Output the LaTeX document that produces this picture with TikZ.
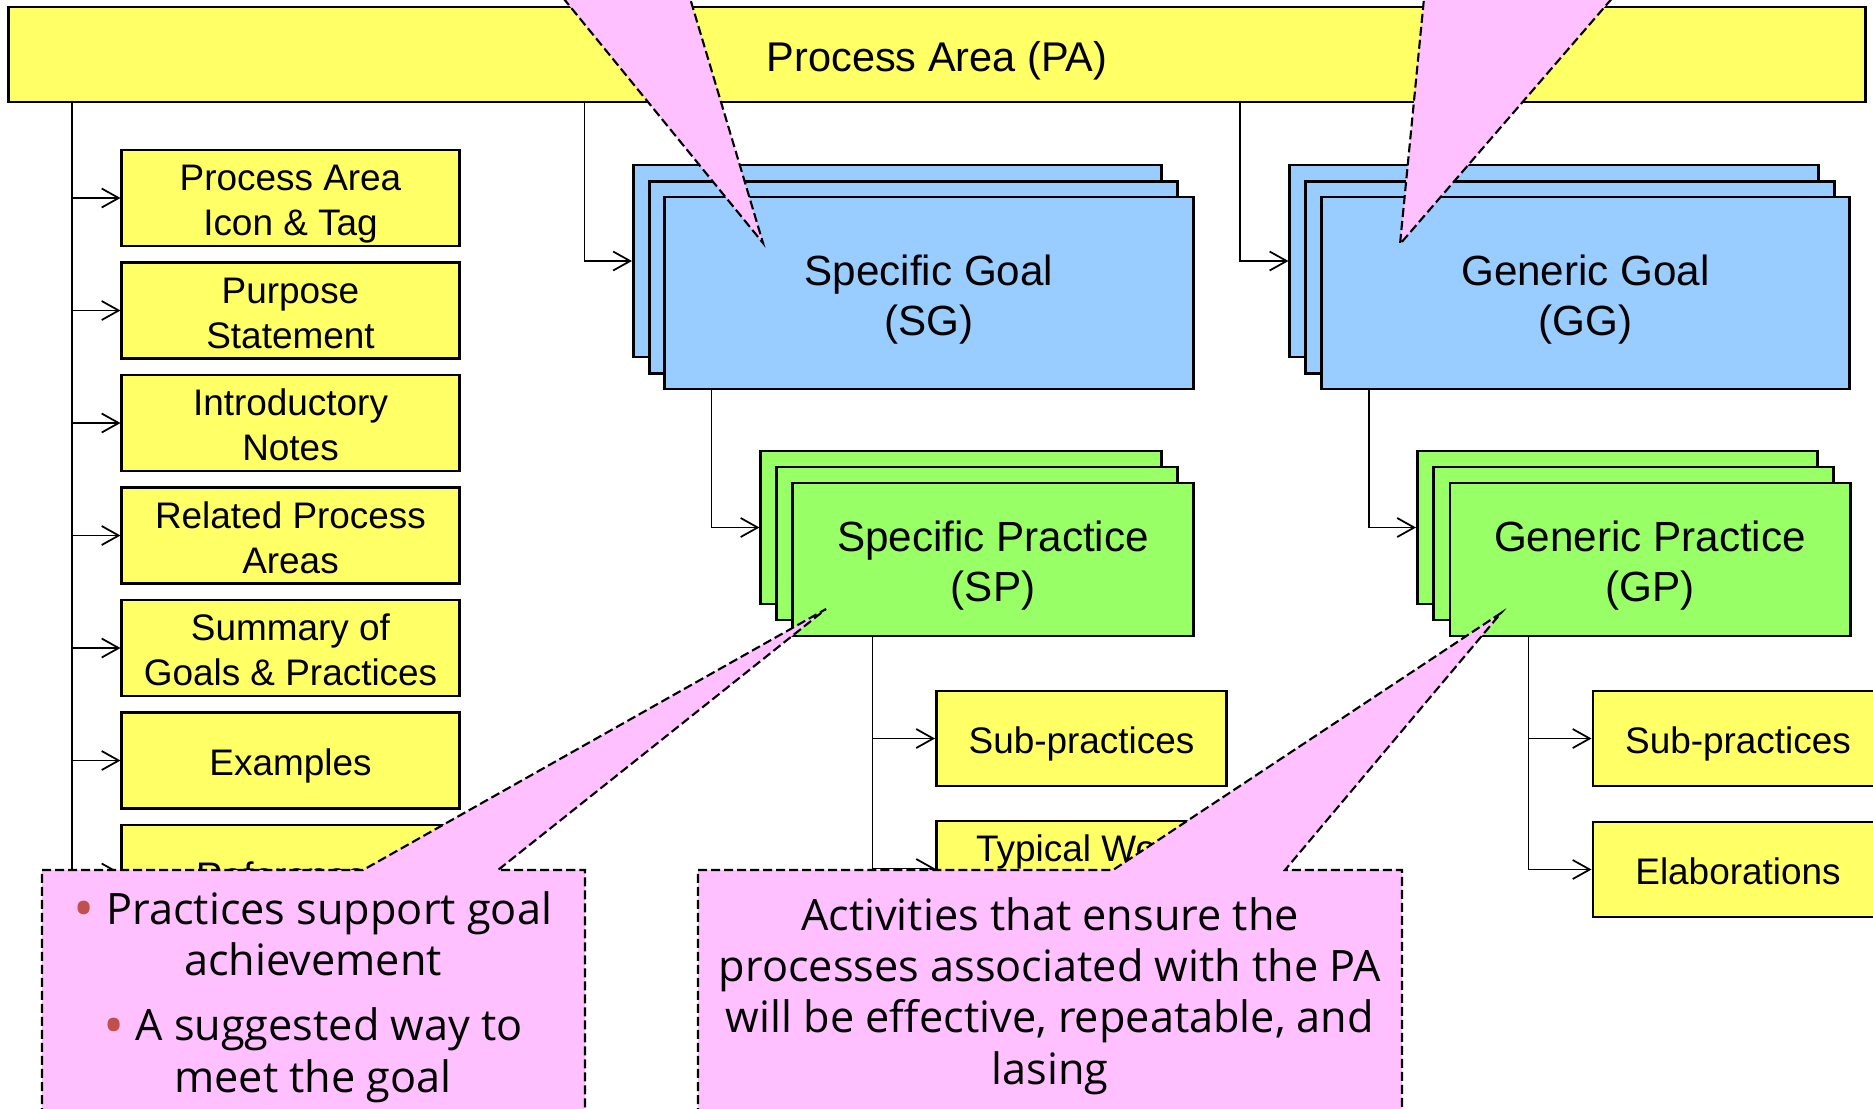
\documentclass[tikz,border=0pt]{standalone}
\usepackage{fontspec}
\setmainfont{Liberation Sans}
\newfontfamily\notefont{Open Sans}
\usetikzlibrary{arrows.meta, positioning}
\definecolor{cyellow}{HTML}{FFFF66}
\definecolor{cblue}{HTML}{99CCFF}
\definecolor{cgreen}{HTML}{99FF66}
\definecolor{cpink}{HTML}{FFC0FF}
\definecolor{cbullet}{HTML}{C0504D}
\newcommand{\dotmark}{\raisebox{-1.2pt}{\color{cbullet}\fontsize{16}{14.6}\selectfont\textbullet}}
\tikzset{
  every picture/.style={x=0.01cm, y=-0.01cm, line width=0.5pt},
  box/.style={draw=black, fill=#1, line width=0.8pt, align=center, inner sep=0pt, font=\fontsize{10.5}{12.8}\selectfont,
    text height=21.5pt, text depth=0pt},
  box/.default=cyellow,
  one line/.style={text height=8.7pt},
  item/.style={box, minimum width=3.37cm, minimum height=0.96cm},
  subbox/.style={box, minimum width=2.9cm, minimum height=0.95cm},
  goal/.style={box=cblue, minimum width=5.28cm, minimum height=1.92cm, font=\fontsize{12}{14.2}\selectfont, text height=24pt},
  practice/.style={box=cgreen, minimum width=4.0cm, minimum height=1.53cm, font=\fontsize{12}{14.2}\selectfont, text height=24pt},
  link/.style={-{Straight Barb[length=1.7mm, width=1.9mm]}, line width=0.5pt},
  callout/.style={fill=cpink, draw=black, dash pattern=on 0.9mm off 0.4mm, line width=0.6pt},
  note/.style={font=\notefont\fontsize{12.3}{14.6}\selectfont, align=center},
}

\begin{document}
\begin{tikzpicture}
  \useasboundingbox (0,0) rectangle (1873,1108);
  \clip (0,0) rectangle (1873,1108);
  \node[box, minimum width=18.56cm, minimum height=0.95cm, font=\fontsize{11.8}{14}\selectfont, text height=9.4pt] (pa) at (937,54.5) {Process Area (PA)};
  % left column
  \node[item] (i1) at (290.5,198) {Process Area\\Icon \& Tag};
  \node[item] (i2) at (290.5,310.5) {Purpose\\Statement};
  \node[item] (i3) at (290.5,423) {Introductory\\Notes};
  \node[item] (i4) at (290.5,535.5) {Related Process\\Areas};
  \node[item] (i5) at (290.5,648) {Summary of\\Goals \& Practices};
  \node[item, one line] (i6) at (290.5,760.5) {Examples};
  \node[item, one line] (i7) at (290.5,873) {References};
  \draw[link] ([xshift=0.65cm]pa.south west) |- (i1.west);
  \draw[link] ([xshift=0.65cm]pa.south west) |- (i2.west);
  \draw[link] ([xshift=0.65cm]pa.south west) |- (i3.west);
  \draw[link] ([xshift=0.65cm]pa.south west) |- (i4.west);
  \draw[link] ([xshift=0.65cm]pa.south west) |- (i5.west);
  \draw[link] ([xshift=0.65cm]pa.south west) |- (i6.west);
  \draw[link] ([xshift=0.65cm]pa.south west) |- (i7.west);
  % specific side
  \node[goal] (sgA) at (897.5,261) {};
  \node[goal] (sgB) at (913.5,277.5) {};
  \node[goal] (sgC) at (929,293) {Specific Goal\\(SG)};
  \node[practice] (spA) at (961,527.5) {};
  \node[practice] (spB) at (977,543.5) {};
  \node[practice] (spC) at (993,559.5) {Specific Practice\\(SP)};
  \node[subbox, one line] (ssub) at (1081.5,738.5) {Sub-practices};
  \node[subbox] (twp) at (1081.5,868.5) {Typical Work\\Products};
  \draw[link] ([xshift=5.77cm]pa.south west) |- (sgA.west);
  \draw[link] ([xshift=0.48cm]sgC.south west) |- (spA.west);
  \draw[link] ([xshift=0.81cm]spC.south west) |- (ssub.west);
  \draw[link] ([xshift=0.81cm]spC.south west) |- (twp.west);
  % generic side
  \node[goal] (ggA) at (1554,261) {};
  \node[goal] (ggB) at (1570,277.5) {};
  \node[goal] (ggC) at (1585.5,293) {Generic Goal\\(GG)};
  \node[practice] (gpA) at (1617.5,527.5) {};
  \node[practice] (gpB) at (1633.5,543.5) {};
  \node[practice] (gpC) at (1650,559.5) {Generic Practice\\(GP)};
  \node[subbox, one line] (gsub) at (1738,738.5) {Sub-practices};
  \node[subbox, one line] (elab) at (1738,869.5) {Elaborations};
  \draw[link] ([xshift=12.32cm]pa.south west) |- (ggA.west);
  \draw[link] ([xshift=0.49cm]ggC.south west) |- (gpA.west);
  \draw[link] ([xshift=0.8cm]gpC.south west) |- (gsub.west);
  \draw[link] ([xshift=0.8cm]gpC.south west) |- (elab.west);
  % callouts
  \coordinate (sgtip) at (763,243);
  \coordinate (ggtip) at (1400,244);
  \coordinate (sptip) at (826,609);
  \coordinate (gptip) at (1501,613);
  \path[callout] (555,-12) -- (sgtip) -- (687,-12) -- cycle;
  \path[callout] (1425,-12) -- (ggtip) -- (1621,-12) -- cycle;
  \draw[callout] (42,1130) -- (42,870) -- (363,870) -- (sptip) -- (498,870) -- (585,870) -- (585,1130) -- cycle;
  \draw[callout] (698,1130) -- (698,870) -- (1113,870) -- (gptip) -- (1285,870) -- (1402,870) -- (1402,1130) -- cycle;
  \node[note] (pnote) at (313,997) {\dotmark\ Practices support goal\\achievement\\[0.14cm]\dotmark\ A suggested way to\\meet the goal};
  \node[note] (anote) at (1050,996) {Activities that ensure the\\processes associated with the PA\\will be effective, repeatable, and\\lasing};
\end{tikzpicture}
\end{document}
